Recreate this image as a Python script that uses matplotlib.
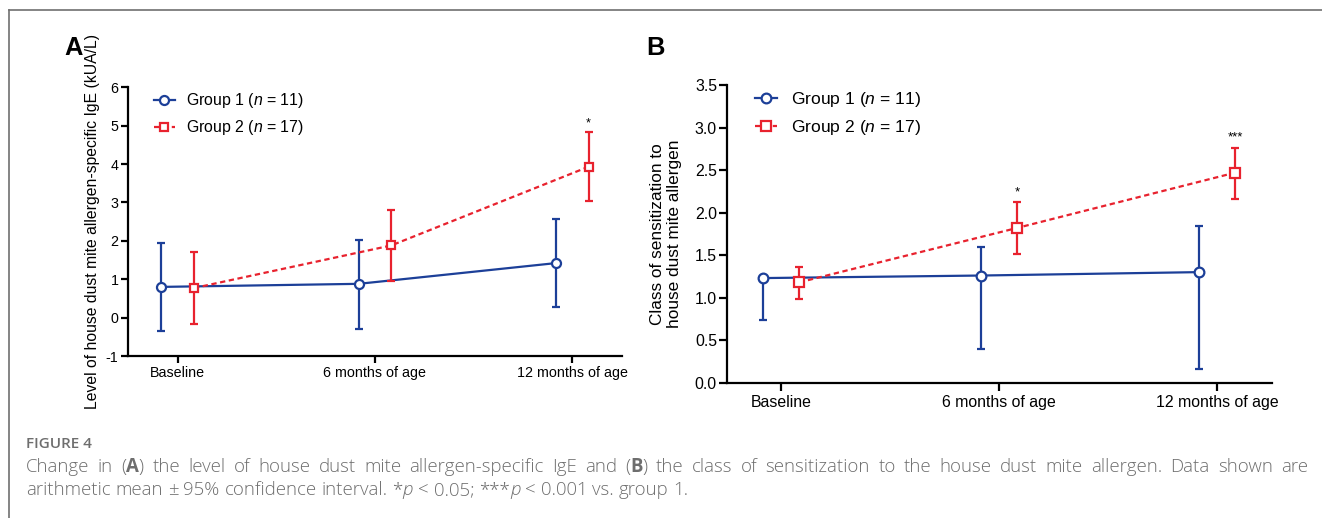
import matplotlib
matplotlib.use("Agg")
import matplotlib.pyplot as plt
from matplotlib.lines import Line2D
import numpy as np

# ---------------- data ----------------
categories = ["Baseline", "6 months of age", "12 months of age"]
group_labels = ["Group 1 ($n$ = 11)", "Group 2 ($n$ = 17)"]

# Panel A: house dust mite allergen-specific IgE (kUA/L), mean and 95% CI
ige_g1_mean = [0.80, 0.88, 1.42]
ige_g1_low = [-0.35, -0.29, 0.27]
ige_g1_high = [1.95, 2.03, 2.56]
ige_g2_mean = [0.77, 1.88, 3.93]
ige_g2_low = [-0.16, 0.95, 3.03]
ige_g2_high = [1.70, 2.80, 4.83]
ige_sig = ["", "", "*"]
ige_yticks = [-1, 0, 1, 2, 3, 4, 5, 6]

# Panel B: class of sensitization, mean and 95% CI
class_g1_mean = [1.23, 1.26, 1.30]
class_g1_low = [0.74, 0.40, 0.16]
class_g1_high = [np.nan, 1.59, 1.84]   # upper whisker not shown at baseline
class_g2_mean = [1.18, 1.82, 2.47]
class_g2_low = [0.98, 1.51, 2.16]
class_g2_high = [1.36, 2.12, 2.76]
class_sig = ["", "*", "***"]
class_yticks = [0.0, 0.5, 1.0, 1.5, 2.0, 2.5, 3.0, 3.5]

caption_title = "FIGURE 4"
caption_line1 = ("Change in (A) the level of house dust mite allergen-specific IgE and (B) "
                 "the class of sensitization to the house dust mite allergen. Data shown are")
caption_line2 = "arithmetic mean ± 95% confidence interval. *p < 0.05; ***p < 0.001 vs. group 1."

# ---------------- style ----------------
BLUE = "#1c3f98"
RED = "#e8222e"
plt.rcParams["font.family"] = ["Liberation Sans", "DejaVu Sans"]
plt.rcParams["mathtext.fontset"] = "custom"
plt.rcParams["mathtext.rm"] = "Liberation Sans"
plt.rcParams["mathtext.it"] = "Liberation Sans:italic"
plt.rcParams["axes.unicode_minus"] = False

W, H = 1322, 518
fig = plt.figure(figsize=(W / 100, H / 100), dpi=100)


def fx(px):
    return px / W


def fy(py):
    return 1 - py / H


# outer frame (top and left grey lines)
fig.add_artist(Line2D([fx(9.3), 1.0], [fy(10.3), fy(10.3)], color="#707070", lw=1.2,
                      transform=fig.transFigure))
fig.add_artist(Line2D([fx(9.3), fx(9.3)], [fy(10.3), 0.0], color="#707070", lw=1.2,
                      transform=fig.transFigure))


def make_axes(rect_px):
    l, t, r, b = rect_px
    ax = fig.add_axes([fx(l), fy(b), fx(r - l), (b - t) / H])
    for s in ["top", "right"]:
        ax.spines[s].set_visible(False)
    for s in ["left", "bottom"]:
        ax.spines[s].set_linewidth(1.6)
    ax.set_xlim(-0.25, 2.25)
    return ax


def draw_group(ax, x, mean, low, high, color, marker, ms, ls, z):
    mean = np.asarray(mean, float)
    low = np.asarray(low, float)
    high = np.asarray(high, float)
    top = np.where(np.isnan(high), mean, high)
    ax.vlines(x, low, top, color=color, lw=1.6, zorder=z)
    ax.plot(x, low, ls="none", marker="_", ms=6, mew=1.6, color=color, zorder=z)
    ax.plot(x, high, ls="none", marker="_", ms=6, mew=1.6, color=color, zorder=z)
    line, = ax.plot(x, mean, color=color, lw=1.6, ls=ls, marker=marker, ms=ms,
                    mfc="white", mec=color, mew=1.6, zorder=z + 1)
    if ls == "--":
        line.set_dashes((2.4, 1.6))
    return line


xc = np.arange(len(categories))
off = 0.083

# ---------------- Panel A ----------------
axA = make_axes((128.3, 87.3, 621.5, 356.0))
axA.set_ylim(-1, 6)
axA.set_yticks(ige_yticks)
axA.set_xticks(xc)
axA.set_xticklabels(categories)
axA.tick_params(axis="both", length=5, width=1.6, labelsize=10.3, color="black")
axA.tick_params(axis="x", pad=2)
axA.tick_params(axis="y", pad=2)
lA1 = draw_group(axA, xc - off, ige_g1_mean, ige_g1_low, ige_g1_high, BLUE, "o", 6.5, "-", 3)
lA2 = draw_group(axA, xc + off, ige_g2_mean, ige_g2_low, ige_g2_high, RED, "s", 6, "--", 5)
for i, s in enumerate(ige_sig):
    if s:
        axA.annotate(s, xy=(xc[i] + off, ige_g2_high[i]), xytext=(0, 2),
                     textcoords="offset points", ha="center", va="bottom", fontsize=9)
legA = axA.legend([lA1, lA2], group_labels, loc="upper left",
                  bbox_to_anchor=(fx(154), fy(91.5)), bbox_transform=fig.transFigure,
                  frameon=False, borderpad=0, borderaxespad=0, handlelength=1.32,
                  handletextpad=0.73, labelspacing=0.5, fontsize=11.4)
fig.text(fx(92.5), fy(221.7), "Level of house dust mite allergen-specific IgE (kUA/L)",
         rotation=90, ha="center", va="center", fontsize=11.3)
fig.text(fx(64.5), fy(55), "A", fontsize=18.4, fontweight="bold", ha="left", va="baseline")

# ---------------- Panel B ----------------
axB = make_axes((726.7, 85.0, 1271.7, 382.7))
axB.set_ylim(0, 3.5)
axB.set_yticks(class_yticks)
axB.set_yticklabels([f"{v:.1f}" for v in class_yticks])
axB.set_xticks(xc)
axB.set_xticklabels(categories)
axB.tick_params(axis="both", length=6, width=1.6, labelsize=11.4, color="black")
axB.tick_params(axis="x", pad=3)
axB.tick_params(axis="y", pad=1)
lB1 = draw_group(axB, xc - off, class_g1_mean, class_g1_low, class_g1_high, BLUE, "o", 7, "-", 3)
lB2 = draw_group(axB, xc + off, class_g2_mean, class_g2_low, class_g2_high, RED, "s", 6.5, "--", 5)
for i, s in enumerate(class_sig):
    if s:
        axB.annotate(s, xy=(xc[i] + off, class_g2_high[i]), xytext=(0, 3),
                     textcoords="offset points", ha="center", va="bottom", fontsize=9.5)
legB = axB.legend([lB1, lB2], group_labels, loc="upper left",
                  bbox_to_anchor=(fx(755), fy(90)), bbox_transform=fig.transFigure,
                  frameon=False, borderpad=0, borderaxespad=0, handlelength=1.27,
                  handletextpad=0.77, labelspacing=0.5, fontsize=12.6)
fig.text(fx(666), fy(233.8), "Class of sensitization to\nhouse dust mite allergen",
         rotation=90, ha="center", va="center", multialignment="center",
         fontsize=12.4, linespacing=1.25)
fig.text(fx(646.5), fy(55), "B", fontsize=18.4, fontweight="bold", ha="left", va="baseline")

# ---------------- caption ----------------
renderer = fig.canvas.get_renderer()
cap_font = dict(family=["Open Sans", "DejaVu Sans"], color="#6e6e6e", fontsize=13.4,
                fontweight="light")


def seg_width(text, props):
    t = fig.text(0, 0, text, **{**cap_font, **props})
    w = t.get_window_extent(renderer).width
    t.remove()
    return w


space_w = seg_width("n n", {}) - seg_width("nn", {})
BOLD = {"fontweight": "bold"}
ITAL = {"fontstyle": "italic"}


def tokenize(line):
    words = []
    for w in line.split(" "):
        if w in ("(A)", "(B)"):
            words.append([("(", {}), (w[1], BOLD), (")", {})])
        elif w.endswith("p") and w.startswith("*"):
            words.append([(w[:-1], {}), ("p", ITAL)])
        else:
            words.append([(w, {})])
    return words


def draw_line(words, y_px, x0, x1=None):
    widths = [[seg_width(s, p) for s, p in word] for word in words]
    totals = [sum(w) for w in widths]
    if x1 is None:
        gap = space_w
    else:
        gap = (x1 - x0 - sum(totals)) / (len(words) - 1)
    x = x0
    for word, wl, tot in zip(words, widths, totals):
        xx = x
        for (s, p), w in zip(word, wl):
            fig.text(fx(xx), fy(y_px), s, ha="left", va="baseline", **{**cap_font, **p})
            xx += w
        x += tot + gap


fig.text(fx(26), fy(448), caption_title, ha="left", va="baseline",
         family=["Open Sans", "DejaVu Sans"], color="#6e6e6e", fontsize=11,
         fontweight="semibold")
draw_line(tokenize(caption_line1), 472, 26, 1308)
draw_line(tokenize(caption_line2), 495, 26)

fig.savefig("out.png", dpi=100)
